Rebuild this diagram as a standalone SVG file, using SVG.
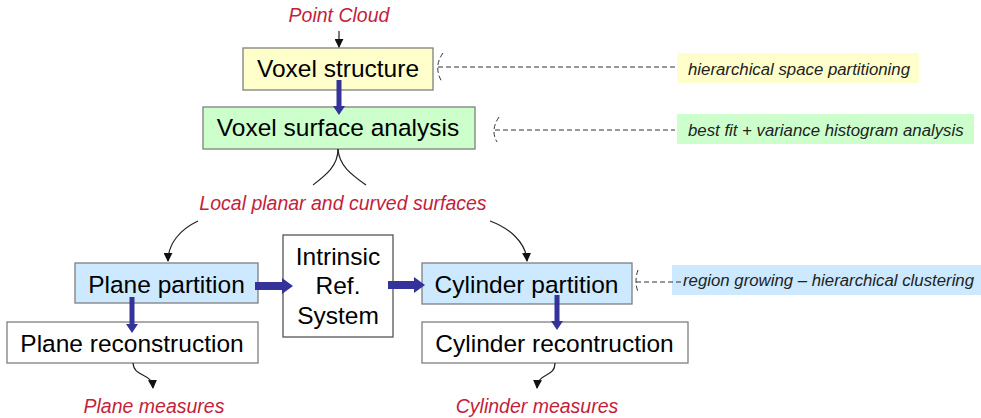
<svg xmlns="http://www.w3.org/2000/svg" width="981" height="418" viewBox="0 0 981 418">
<defs>
<style>
.node{stroke:#7f7f7f;stroke-width:1.3}
.yel{fill:#ffffcc}.grn{fill:#ccffcc}.blu{fill:#cce9ff}.wht{fill:#ffffff}
.t{font-family:"Liberation Sans",Arial,sans-serif;font-size:24.5px;fill:#000;text-anchor:middle}
.red{font-family:"Liberation Sans",Arial,sans-serif;font-size:19.5px;font-style:italic;fill:#c41e3a;text-anchor:middle}
.ann{font-family:"Liberation Sans",Arial,sans-serif;font-size:16.8px;font-style:italic;fill:#222}
.thick{fill:#333399}
.thin{fill:none;stroke:#222;stroke-width:1.2}
.dash{fill:none;stroke:#333;stroke-width:1;stroke-dasharray:5,3}
</style>
<marker id="ah" viewBox="0 0 10 10" refX="9" refY="5" markerWidth="9" markerHeight="9" markerUnits="userSpaceOnUse" orient="auto">
<path d="M0,0 L10,5 L0,10 Z" fill="#111"/>
</marker>
</defs>
<rect width="981" height="418" fill="#ffffff"/>

<text class="red" x="339" y="22">Point Cloud</text>
<text class="red" x="343" y="210">Local planar and curved surfaces</text>
<text class="red" x="154" y="413">Plane measures</text>
<text class="red" x="537" y="413">Cylinder measures</text>

<g id="voxel-structure">
<rect class="node yel" x="243" y="48" width="190" height="42"/>
<text class="t" x="338" y="77">Voxel structure</text>
</g>
<g id="voxel-surface-analysis">
<rect class="node grn" x="203" y="107" width="272" height="42"/>
<text class="t" x="338" y="136">Voxel surface analysis</text>
</g>
<g id="plane-partition">
<rect class="node blu" x="75" y="263" width="183" height="40"/>
<text class="t" x="166.5" y="293">Plane partition</text>
</g>
<g id="plane-reconstruction">
<rect class="node wht" x="7" y="322" width="251" height="41"/>
<text class="t" x="132" y="352">Plane reconstruction</text>
</g>
<g id="intrinsic-ref-system">
<rect class="node wht" x="283" y="235" width="110" height="102" style="stroke:#555"/>
<text class="t" x="338" y="265">Intrinsic</text>
<text class="t" x="338" y="294">Ref.</text>
<text class="t" x="338" y="324">System</text>
</g>
<g id="cylinder-partition">
<rect class="node blu" x="422" y="263" width="210" height="41"/>
<text class="t" x="526.5" y="293">Cylinder partition</text>
</g>
<g id="cylinder-reconstruction">
<rect class="node wht" x="422" y="322" width="266" height="41"/>
<text class="t" x="554.5" y="352">Cylinder recontruction</text>
</g>

<g id="note-hierarchical">
<rect class="yel" x="677" y="53" width="242" height="30"/>
<text class="ann" x="688" y="75">hierarchical space partitioning</text>
</g>
<g id="note-bestfit">
<rect class="grn" x="677" y="114" width="297" height="30"/>
<text class="ann" x="688" y="136">best fit + variance histogram analysis</text>
</g>
<g id="note-region">
<rect class="blu" x="672" y="265" width="309" height="30"/>
<text class="ann" x="683" y="286">region growing – hierarchical clustering</text>
</g>

<g id="connectors">
<line class="thin" x1="339" y1="31" x2="339" y2="47" marker-end="url(#ah)"/>
<path class="thick" d="M336.5,80 H341.5 V106 H345 L339,115 L333,106 H336.5 Z"/>
<path class="thin" d="M338,149 C338,166 326,175 313,185"/>
<path class="thin" d="M338,149 C339,166 352,175 366,185"/>
<path class="thin" d="M198,221 C181,229 168,243 168,261" marker-end="url(#ah)"/>
<path class="thin" d="M490,221 C509,228 526,242 527,261" marker-end="url(#ah)"/>
<path class="thick" d="M129.5,297 H134.5 V324 H138 L132,333 L126,324 H129.5 Z"/>
<path class="thick" d="M255,282 H282 V278 L293,286 L282,294 V290 H255 Z"/>
<path class="thick" d="M388,281 H414 V277 L425,285 L414,293 V289 H388 Z"/>
<path class="thick" d="M554.5,295 H559.5 V321 H563 L557,330 L551,321 H554.5 Z"/>
<path class="thin" d="M133,363 C134,378 152,372 153,388" marker-end="url(#ah)"/>
<path class="thin" d="M555,363 C555,378 538,372 537,388" marker-end="url(#ah)"/>
<path class="dash" d="M443,53 Q433,67 442,82"/>
<line class="dash" x1="438" y1="67" x2="675" y2="67"/>
<path class="dash" d="M499,117 Q490,130 497,142"/>
<line class="dash" x1="495" y1="130" x2="675" y2="130"/>
<path class="dash" d="M638,270 Q634,281 638,292"/>
<line class="dash" x1="636" y1="282" x2="684" y2="282"/>
</g>
</svg>
